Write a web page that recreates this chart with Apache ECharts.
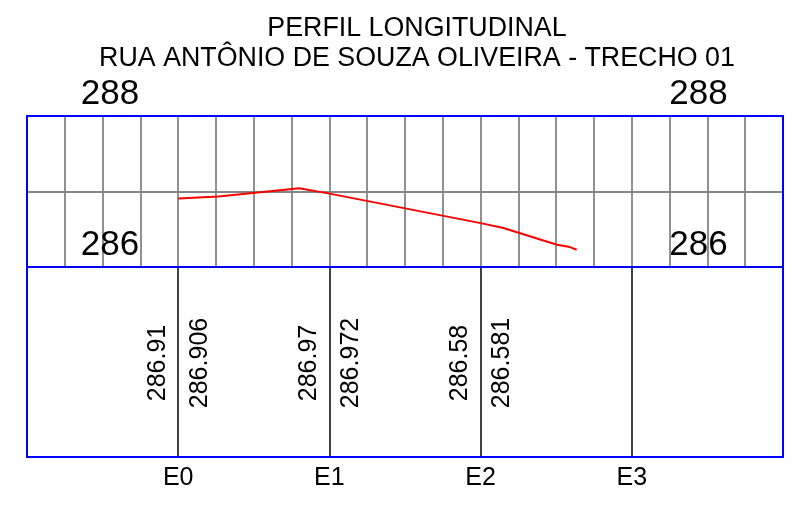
<!DOCTYPE html>
<html>
<head>
<meta charset="utf-8">
<script src="https://cdn.jsdelivr.net/npm/echarts@6/dist/echarts.min.js"></script>
<style>
html,body{margin:0;padding:0;background:#fff;}
#chart{width:796px;height:519px;}
</style>
</head>
<body>
<div id="chart"></div>
<script>
// ---- data ----
var titleLines = ['PERFIL LONGITUDINAL', 'RUA ANTÔNIO DE SOUZA OLIVEIRA - TRECHO 01'];
var stationNames = ['E0', 'E1', 'E2', 'E3'];
var stationDist = [0, 20, 40, 60];
var cotaLeft = ['286.91', '286.97', '286.58'];      // texts left of station line
var cotaRight = ['286.906', '286.972', '286.581'];  // texts right of station line
var profileDist = [0, 5.3, 16.0, 20, 40, 43.0, 50.1, 51.8, 52.7];
var profileElev = [286.906, 286.933, 287.044, 286.972, 286.581, 286.516, 286.295, 286.264, 286.229];
var elevTickLabels = [286, 288];

var FONT = '"Liberation Sans", Arial, sans-serif';
var chart = echarts.init(document.getElementById('chart'), null, {renderer: 'canvas'});

var profileData = profileDist.map(function (d, i) { return [d, profileElev[i]]; });
var stationData = cotaLeft.map(function (t, i) { return [stationDist[i], 0.5]; });

function elevFmt(v) { return elevTickLabels.indexOf(v) >= 0 ? String(v) : ''; }
function stationFmt(v) {
  var i = stationDist.indexOf(v);
  return i >= 0 ? stationNames[i] : '';
}

var option = {
  backgroundColor: '#ffffff',
  animation: false,
  title: {
    text: titleLines.join('\n'),
    left: 417, top: 14, padding: 0,
    textAlign: 'center',
    textStyle: {fontFamily: FONT, fontSize: 26.8, fontWeight: 'normal', color: '#000', lineHeight: 30}
  },
  grid: [
    {left: 27, right: 13, top: 116, height: 151, show: true, borderColor: '#0000ff', borderWidth: 2, backgroundColor: 'transparent', z: 3},
    {left: 27, right: 13, top: 267, height: 190, show: true, borderColor: '#0000ff', borderWidth: 2, backgroundColor: 'transparent', z: 3}
  ],
  xAxis: [
    {gridIndex: 0, type: 'value', min: -20, max: 80, interval: 5,
     axisLine: {show: false}, axisTick: {show: false}, axisLabel: {show: false},
     splitLine: {show: true, showMinLine: false, showMaxLine: false, lineStyle: {color: '#858585', width: 1.8}}},
    {gridIndex: 1, type: 'value', min: -20, max: 80, interval: 20,
     axisLine: {show: false}, axisTick: {show: false},
     axisLabel: {show: true, formatter: stationFmt, fontFamily: FONT, fontSize: 25, color: '#000', margin: 9},
     splitLine: {show: true, showMinLine: false, showMaxLine: false, lineStyle: {color: '#000', width: 1.5}}}
  ],
  yAxis: [
    {gridIndex: 0, type: 'value', min: 286, max: 288, interval: 1, position: 'left',
     axisLine: {show: false}, axisTick: {show: false},
     axisLabel: {show: true, formatter: elevFmt, fontFamily: FONT, fontSize: 35, color: '#000',
                 align: 'center', verticalAlign: 'bottom', lineHeight: 44, margin: -83},
     splitLine: {show: true, showMinLine: false, showMaxLine: false, lineStyle: {color: '#858585', width: 1.8}}},
    {gridIndex: 0, type: 'value', min: 286, max: 288, interval: 1, position: 'right',
     axisLine: {show: false}, axisTick: {show: false},
     axisLabel: {show: true, formatter: elevFmt, fontFamily: FONT, fontSize: 35, color: '#000',
                 align: 'center', verticalAlign: 'bottom', lineHeight: 44, margin: -84.5},
     splitLine: {show: false}},
    {gridIndex: 1, type: 'value', min: 0, max: 1, show: false, splitLine: {show: false}}
  ],
  series: [
    {type: 'line', xAxisIndex: 0, yAxisIndex: 0, data: profileData, symbol: 'none',
     lineStyle: {color: '#ff0000', width: 2}, z: 5, silent: true},
    {type: 'custom', xAxisIndex: 1, yAxisIndex: 2, data: stationData, silent: true, z: 5,
     renderItem: function (params, api) {
       var pt = api.coord([api.value(0), api.value(1)]);
       var i = params.dataIndex;
       var st = {fontFamily: FONT, fontSize: 25, fill: '#000', align: 'center', verticalAlign: 'middle'};
       return {type: 'group', children: [
         {type: 'text', x: pt[0] - 20, y: pt[1] + 1, rotation: Math.PI / 2,
          style: Object.assign({text: cotaLeft[i]}, st)},
         {type: 'text', x: pt[0] + 22, y: pt[1] + 1, rotation: Math.PI / 2,
          style: Object.assign({text: cotaRight[i]}, st)}
       ]};
     }}
  ]
};
chart.setOption(option);
</script>
</body>
</html>
